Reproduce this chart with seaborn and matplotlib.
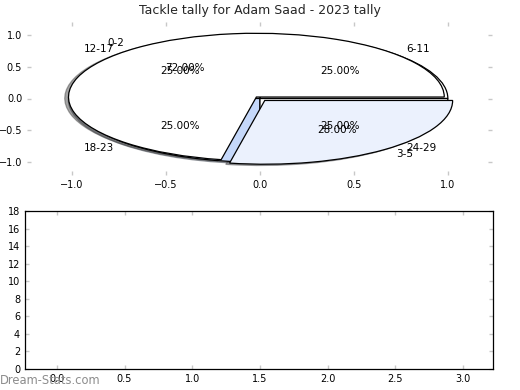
import matplotlib
matplotlib.use("Agg")
import matplotlib.pyplot as plt
import seaborn as sns
import numpy as np

# ---- data ----
title = "Tackle tally for Adam Saad - 2023 tally"
outer_labels = ["6-11", "12-17", "18-23", "24-29"]
outer_values = [1, 1, 1, 1]
inner_labels = ["0-2", "3-5"]
inner_values = [72, 28]
bottom_xticks = [0.0, 0.5, 1.0, 1.5, 2.0, 2.5, 3.0]
bottom_yticks = [0, 2, 4, 6, 8, 10, 12, 14, 16, 18]
pie_ticks = [-1.0, -0.5, 0.0, 0.5, 1.0]

sns.set_style("white")
plt.rcParams["font.family"] = ["DejaVu Sans"]

fig = plt.figure(figsize=(5.2, 3.9), dpi=100)
ax1 = fig.add_axes([27/520, 1-175/390, (492-27)/520, (175-22)/390])
ax2 = fig.add_axes([25/520, 1-369/390, (493-25)/520, (369-211)/390])

# offset in data units = ox * dpi / 72  ->  -0.02 data units
shadow = {"ox": -0.02 * 72 / 100, "oy": -0.02 * 72 / 100, "shade": 0.7}
wp = {"edgecolor": "black", "linewidth": 0.9}
tp = {"fontsize": 7.5, "color": "black"}

ax1.pie(outer_values, labels=outer_labels, colors=["white", "white", "#c5d8fa", "white"],
        autopct="%1.2f%%", shadow=shadow, wedgeprops=wp, textprops=tp, frame=True)
ax1.pie(inner_values, labels=inner_labels, colors=["white", "#ebf1fd"],
        explode=[0.03, 0.04], autopct="%1.2f%%", shadow=shadow, wedgeprops=wp,
        textprops=tp, frame=True)
ax1.set_aspect("auto")
ax1.set_xlim(-1.24, 1.235)
ax1.set_ylim(-1.2, 1.2)
ax1.set_xticks(pie_ticks)
ax1.set_yticks(pie_ticks)
for s in ax1.spines.values():
    s.set_visible(False)
ax1.set_title(title, fontsize=9, pad=6)

ax2.set_xlim(-0.235, 3.22)
ax2.set_ylim(0, 18)
ax2.set_xticks(bottom_xticks)
ax2.set_yticks(bottom_yticks)
for s in ax2.spines.values():
    s.set_visible(True)
    s.set_color("black")
    s.set_linewidth(0.9)

for ax in (ax1, ax2):
    ax.tick_params(direction="in", length=3, width=1, color="#c8c8c8",
                   labelsize=7, labelcolor="black", top=True, right=True,
                   bottom=True, left=True, pad=3.5)
    ax.grid(False)

fig.text(0.0, 10/390, "Dream-Stats.com", fontsize=8.3, color="#8c8c8c",
         ha="left", va="center")

fig.savefig("out.png", dpi=100, facecolor="white")
